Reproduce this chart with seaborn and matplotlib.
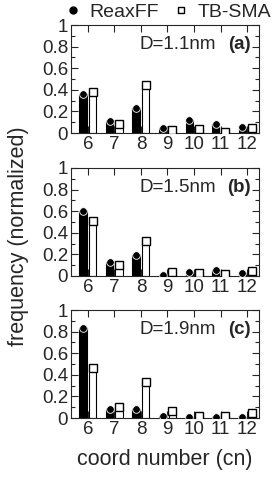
import numpy as np
import pandas as pd
import matplotlib
matplotlib.use('Agg')
import matplotlib.pyplot as plt
from matplotlib.lines import Line2D
from matplotlib.ticker import MultipleLocator
import seaborn as sns

sns.set_style('ticks')
plt.rcParams['font.family'] = ['Liberation Sans', 'DejaVu Sans']

cn = [6, 7, 8, 9, 10, 11, 12]
models = ['ReaxFF', 'TB-SMA']
yticks = [0, 0.2, 0.4, 0.6, 0.8, 1]
ytick_labels = ['0', '0.2', '0.4', '0.6', '0.8', '1']

# normalized frequency, one pair of lists per diameter
reax_11 = [0.36, 0.11, 0.23, 0.05, 0.12, 0.08, 0.06]
tbsma_11 = [0.38, 0.08, 0.44, 0.025, 0.035, 0.01, 0.05]
reax_15 = [0.60, 0.13, 0.19, 0.01, 0.04, 0.055, 0.03]
tbsma_15 = [0.51, 0.10, 0.32, 0.04, 0.025, 0.015, 0.05]
reax_19 = [0.83, 0.08, 0.08, 0.015, 0.01, 0.01, 0.01]
tbsma_19 = [0.46, 0.10, 0.33, 0.065, 0.02, 0.02, 0.05]

panels = [('D=1.1nm', '(a)', reax_11, tbsma_11),
          ('D=1.5nm', '(b)', reax_15, tbsma_15),
          ('D=1.9nm', '(c)', reax_19, tbsma_19)]

fig = plt.figure(figsize=(2.77, 4.79), dpi=100)
bottoms = [0.7223, 0.4238, 0.1273]
shift = 0.18  # half distance between the two bars of a group

for (dlab, plab, reax, tb), b in zip(panels, bottoms):
    ax = fig.add_axes([0.256, b, 0.679, 0.2255])
    df = pd.DataFrame({'cn': cn * 2,
                       'freq': reax + tb,
                       'model': ['ReaxFF'] * len(cn) + ['TB-SMA'] * len(cn)})
    sns.barplot(data=df, x='cn', y='freq', hue='model', hue_order=models,
                palette={'ReaxFF': 'black', 'TB-SMA': 'white'},
                native_scale=True, width=0.72, gap=0.22,
                edgecolor='black', linewidth=0.8, legend=False, ax=ax)
    # markers on top of the bars
    ax.plot(np.array(cn) - shift, reax, 'o', ms=5.5, mfc='black', mec='white',
            mew=0.6, zorder=5)
    ax.plot(np.array(cn) + shift, tb, 's', ms=5.5, mfc='white', mec='black',
            mew=1.0, zorder=5)

    ax.set_xlim(5.36, 12.45)
    ax.set_ylim(0, 1)
    ax.set_xticks(cn, [str(c) for c in cn])
    ax.set_yticks(yticks, ytick_labels)
    ax.yaxis.set_minor_locator(MultipleLocator(0.1))
    ax.tick_params(axis='both', which='both', direction='in', top=True,
                   right=True, labelsize=13.5, width=0.8, pad=2)
    ax.tick_params(axis='x', which='major', length=5)
    ax.tick_params(axis='y', which='major', length=5)
    ax.tick_params(axis='y', which='minor', length=3)
    for s in ax.spines.values():
        s.set_linewidth(0.8)
    ax.set_xlabel('')
    ax.set_ylabel('')
    ax.text(0.367, 0.815, dlab, transform=ax.transAxes, fontsize=13.5,
            ha='left', va='center')
    ax.text(0.955, 0.815, plab, transform=ax.transAxes, fontsize=13.5,
            fontweight='bold', ha='right', va='center')

ax.set_xlabel('coord number (cn)', fontsize=15.5, labelpad=8)
fig.text(0.065, 0.507, 'frequency (normalized)', rotation=90, fontsize=15.5,
         ha='center', va='center')

handles = [Line2D([], [], ls='', marker='o', ms=5, mfc='black', mec='black'),
           Line2D([], [], ls='', marker='s', ms=4, mfc='white', mec='black')]
fig.legend(handles, models, loc='center', bbox_to_anchor=(0.61, 0.974),
           ncol=2, frameon=False, fontsize=14, handlelength=0.7,
           handletextpad=0.5, columnspacing=0.8, borderaxespad=0)

fig.savefig('out.png', dpi=100)
